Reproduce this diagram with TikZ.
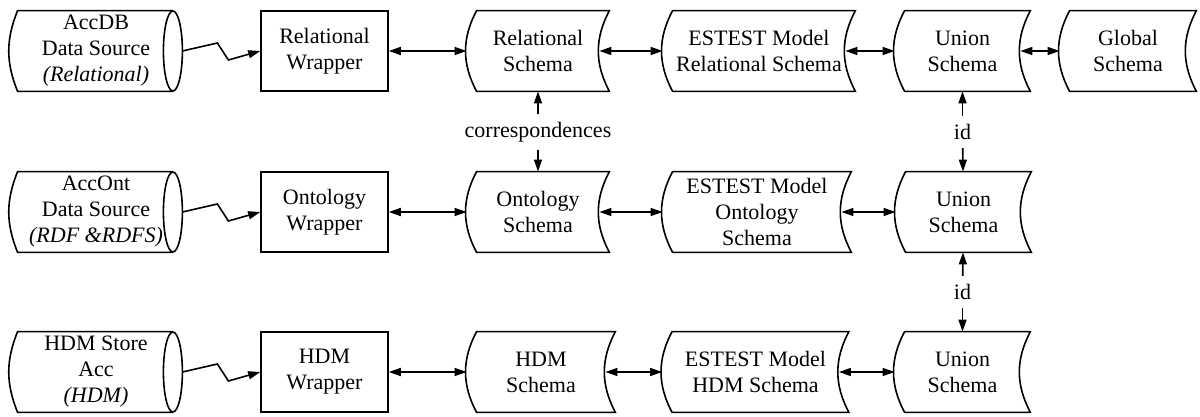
\documentclass[tikz,border=0pt]{standalone}
\usepackage{fontspec}
\setmainfont{Liberation Serif}
\usepackage{tikz}
\usetikzlibrary{arrows.meta, positioning, calc}
\tikzset{
  txt/.style={font=\fontsize{11}{13}\selectfont, align=center, inner sep=0pt, minimum height=40pt},
  source/.style={txt, minimum width=86pt},
  wrapper/.style={txt, draw, line width=0.8pt, minimum width=63.5pt},
  schema/.style={txt, minimum width=#1},
  schema/.default=71pt,
  outline/.style={line width=0.8pt},
  both/.style={{Triangle[length=6pt,width=4pt]}-{Triangle[length=6pt,width=4pt]}, line width=0.8pt},
  flow/.style={-{Triangle[length=6pt,width=4pt]}, line width=0.8pt},
  zigzag/.style={flow, to path={-- ++(17.5pt,4pt) -- ++(5.5pt,-8.5pt) -- (\tikztotarget)}},
  lbl/.style={font=\fontsize{11}{13}\selectfont, inner sep=4pt},
}
\begin{document}
\begin{tikzpicture}[x=0.5pt, y=-0.5pt]
  \useasboundingbox (0,0) rectangle (1200,417);
  % data sources
  \node[source] (acc1) at (96,51) {AccDB\\Data Source\\\textit{(Relational)}};
  \node[source] (acc2) at (96,212) {AccOnt\\Data Source\\\textit{(RDF \&RDFS)}};
  \node[source] (acc3) at (96,372) {HDM Store\\Acc\\\textit{(HDM)}};
  % wrappers
  \node[wrapper] (wr1) at (324.5,51) {Relational\\Wrapper};
  \node[wrapper] (wr2) at (324.5,212) {Ontology\\Wrapper};
  \node[wrapper] (wr3) at (324.5,372) {HDM\\Wrapper};
  % schemas
  \node[schema] (sc1) at (538,51) {Relational\\Schema};
  \node[schema] (sc2) at (538,212) {Ontology\\Schema};
  \node[schema=74pt] (sc3) at (541,372) {HDM\\Schema};
  \node[schema=96pt] (es1) at (759,51) {ESTEST Model\\Relational Schema};
  \node[schema=94pt] (es2) at (757,212) {ESTEST Model\\Ontology\\Schema};
  \node[schema=93pt] (es3) at (755.5,372) {ESTEST Model\\HDM Schema};
  \node[schema=67.5pt] (un1) at (962.5,51) {Union\\Schema};
  \node[schema=67.5pt] (un2) at (963.5,212) {Union\\Schema};
  \node[schema=67.5pt] (un3) at (962.5,372) {Union\\Schema};
  \node[schema=68pt] (gl) at (1128,51) {Global\\Schema};
  % outlines
  \foreach \n in {acc1,acc2,acc3}
    \draw[outline] ([xshift=-4.75pt]\n.north east) -- ([xshift=4pt]\n.north west)
      to[bend right=22] ([xshift=4pt]\n.south west) -- ([xshift=-4.75pt]\n.south east)
      ([xshift=-4.75pt]\n.east) ellipse [x radius=4.75pt, y radius=20pt];
  \foreach \n in {sc1,sc2,sc3,es1,es2,es3,un1,un2,un3,gl}
    \draw[outline] ([xshift=5pt]\n.north west) -- (\n.north east) to[bend right=28] (\n.south east)
      -- ([xshift=5pt]\n.south west) to[bend left=28] ([xshift=5pt]\n.north west) -- cycle;
  % connectors
  \foreach \r in {1,2,3} {
    \draw[zigzag] (acc\r.east) to (wr\r.west);
    \draw[both] (wr\r.east) -- (sc\r.west);
    \draw[both] ([xshift=-5pt]sc\r.east) -- (es\r.west);
    \draw[both] ([xshift=-5pt]es\r.east) -- (un\r.west);
  }
  \draw[both] ([xshift=-5pt]un1.east) -- (gl.west);
  % correspondences and id
  \node[lbl] (corr) at (538,132) {correspondences};
  \draw[flow] (corr) -- (sc1);
  \draw[flow] (corr) -- (sc2);
  \node[lbl] (id1) at (962.5,132) {id};
  \draw[flow] (id1) -- (un1);
  \draw[flow] (id1) -- (un2);
  \node[lbl] (id2) at (962.5,292) {id};
  \draw[flow] (id2) -- (un2);
  \draw[flow] (id2) -- (un3);
\end{tikzpicture}
\end{document}
